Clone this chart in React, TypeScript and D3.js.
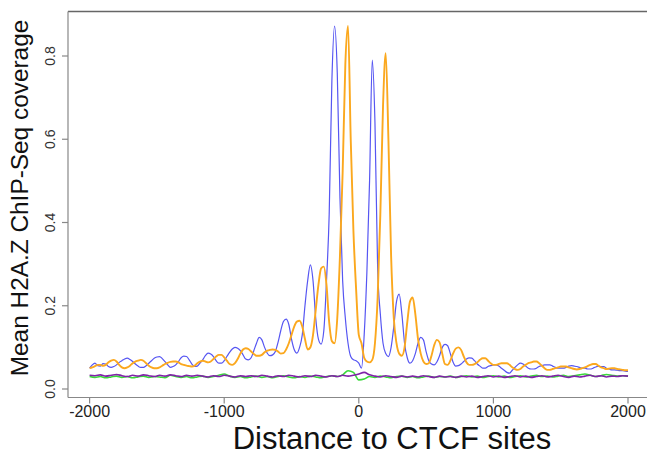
import { line, curveMonotoneX, scaleLinear } from 'd3'

const W = 647
const H = 457

// mean coverage, 20 bp bins from -2000 to 2000
const blueVals = [
  0.050, 0.058, 0.062, 0.056, 0.055, 0.061, 0.060, 0.054, 0.052, 0.054,
  0.058, 0.064, 0.068, 0.072, 0.074, 0.071, 0.066, 0.060, 0.055, 0.052,
  0.052, 0.056, 0.062, 0.068, 0.074, 0.077, 0.078, 0.073, 0.066, 0.058,
  0.052, 0.054, 0.058, 0.066, 0.075, 0.079, 0.078, 0.070, 0.060, 0.054,
  0.055, 0.062, 0.070, 0.080, 0.086, 0.084, 0.078, 0.068, 0.062, 0.062,
  0.068, 0.078, 0.088, 0.096, 0.100, 0.098, 0.092, 0.082, 0.072, 0.070,
  0.075, 0.092, 0.110, 0.124, 0.118, 0.100, 0.086, 0.080, 0.082, 0.090,
  0.112, 0.140, 0.162, 0.168, 0.155, 0.120, 0.095, 0.086, 0.100, 0.130,
  0.200, 0.260, 0.298, 0.260, 0.170, 0.120, 0.108, 0.140, 0.260, 0.420,
  0.740, 0.872, 0.760, 0.460, 0.260, 0.170, 0.110, 0.078, 0.070, 0.068,
  0.062, 0.050, 0.130, 0.280, 0.500, 0.790, 0.640, 0.290, 0.180, 0.110,
  0.085, 0.078, 0.100, 0.150, 0.210, 0.228, 0.180, 0.110, 0.075, 0.062,
  0.068, 0.085, 0.110, 0.124, 0.118, 0.090, 0.068, 0.060, 0.058, 0.065,
  0.080, 0.100, 0.107, 0.104, 0.085, 0.065, 0.055, 0.056, 0.060, 0.066,
  0.072, 0.075, 0.074, 0.068, 0.060, 0.055, 0.050, 0.050, 0.054, 0.056,
  0.058, 0.058, 0.055, 0.050, 0.045, 0.040, 0.038, 0.045, 0.052, 0.058,
  0.062, 0.060, 0.055, 0.050, 0.048, 0.048, 0.050, 0.054, 0.056, 0.058,
  0.058, 0.058, 0.055, 0.052, 0.050, 0.050, 0.050, 0.052, 0.055, 0.056,
  0.055, 0.054, 0.052, 0.050, 0.050, 0.048, 0.048, 0.050, 0.053, 0.055,
  0.054, 0.054, 0.050, 0.048, 0.046, 0.046, 0.045, 0.044, 0.044, 0.043,
  0.042,
]

const orangeVals = [
  0.050, 0.052, 0.055, 0.058, 0.058, 0.056, 0.058, 0.064, 0.068, 0.070,
  0.066, 0.058, 0.052, 0.050, 0.052, 0.056, 0.062, 0.066, 0.068, 0.070,
  0.068, 0.062, 0.056, 0.052, 0.050, 0.050, 0.052, 0.056, 0.060, 0.063,
  0.065, 0.066, 0.066, 0.064, 0.060, 0.058, 0.056, 0.055, 0.054, 0.056,
  0.062, 0.066, 0.068, 0.066, 0.064, 0.066, 0.072, 0.078, 0.082, 0.082,
  0.076, 0.068, 0.060, 0.058, 0.062, 0.072, 0.085, 0.095, 0.098, 0.096,
  0.090, 0.084, 0.080, 0.080, 0.082, 0.088, 0.092, 0.094, 0.095, 0.094,
  0.090, 0.085, 0.086, 0.095, 0.110, 0.130, 0.150, 0.162, 0.164, 0.150,
  0.120, 0.095, 0.100, 0.130, 0.190, 0.250, 0.290, 0.294, 0.250, 0.160,
  0.115, 0.110, 0.170, 0.320, 0.520, 0.780, 0.872, 0.600, 0.380, 0.240,
  0.130, 0.110, 0.075, 0.066, 0.064, 0.070, 0.110, 0.220, 0.420, 0.680,
  0.807, 0.600, 0.320, 0.170, 0.110, 0.085, 0.080, 0.100, 0.160, 0.210,
  0.220, 0.180, 0.120, 0.085, 0.066, 0.060, 0.062, 0.080, 0.105, 0.118,
  0.112, 0.085, 0.060, 0.058, 0.068, 0.085, 0.097, 0.100, 0.094, 0.078,
  0.064, 0.058, 0.058, 0.060, 0.064, 0.070, 0.074, 0.074, 0.068, 0.062,
  0.058, 0.058, 0.060, 0.062, 0.062, 0.062, 0.058, 0.052, 0.048, 0.046,
  0.048, 0.054, 0.058, 0.062, 0.064, 0.066, 0.066, 0.062, 0.056, 0.050,
  0.046, 0.046, 0.048, 0.050, 0.052, 0.054, 0.054, 0.054, 0.052, 0.050,
  0.048, 0.047, 0.048, 0.050, 0.052, 0.055, 0.058, 0.060, 0.060, 0.056,
  0.052, 0.050, 0.048, 0.049, 0.050, 0.050, 0.048, 0.047, 0.046, 0.045,
  0.045,
]

// 40 bp bins
const greenVals = [
  0.030, 0.028, 0.030, 0.027, 0.029, 0.031, 0.028, 0.030, 0.027, 0.029,
  0.031, 0.028, 0.030, 0.029, 0.027, 0.033, 0.030, 0.028, 0.030, 0.027,
  0.029, 0.031, 0.028, 0.030, 0.033, 0.036, 0.031, 0.028, 0.030, 0.027,
  0.029, 0.031, 0.028, 0.030, 0.027, 0.030, 0.032, 0.029, 0.027, 0.030,
  0.028, 0.031, 0.029, 0.027, 0.030, 0.032, 0.030, 0.034, 0.044, 0.040,
  0.022, 0.024, 0.030, 0.028, 0.031, 0.029, 0.027, 0.030, 0.031, 0.028,
  0.030, 0.027, 0.029, 0.031, 0.028, 0.030, 0.029, 0.031, 0.028, 0.030,
  0.032, 0.029, 0.031, 0.028, 0.030, 0.032, 0.029, 0.031, 0.028, 0.030,
  0.032, 0.029, 0.031, 0.033, 0.030, 0.031, 0.029, 0.031, 0.033, 0.030,
  0.032, 0.034, 0.036, 0.033, 0.030, 0.032, 0.035, 0.033, 0.031, 0.032,
  0.031,
]

const purpleVals = [
  0.033, 0.032, 0.034, 0.031, 0.033, 0.035, 0.032, 0.030, 0.033, 0.031,
  0.034, 0.032, 0.030, 0.033, 0.031, 0.034, 0.032, 0.030, 0.033, 0.031,
  0.033, 0.031, 0.029, 0.032, 0.030, 0.033, 0.031, 0.029, 0.032, 0.030,
  0.032, 0.030, 0.033, 0.031, 0.029, 0.032, 0.030, 0.033, 0.031, 0.029,
  0.032, 0.030, 0.033, 0.031, 0.029, 0.032, 0.030, 0.033, 0.031, 0.033,
  0.036, 0.040, 0.034, 0.031, 0.029, 0.032, 0.030, 0.028, 0.031, 0.029,
  0.031, 0.029, 0.032, 0.030, 0.028, 0.031, 0.029, 0.030, 0.028, 0.031,
  0.029, 0.031, 0.028, 0.030, 0.032, 0.029, 0.031, 0.028, 0.030, 0.032,
  0.029, 0.031, 0.028, 0.030, 0.032, 0.029, 0.031, 0.033, 0.030, 0.028,
  0.031, 0.029, 0.031, 0.033, 0.030, 0.032, 0.029, 0.031, 0.030, 0.032,
  0.031,
]

const xTicks = [-2000, -1000, 0, 1000, 2000]
const yTicks = [0, 0.2, 0.4, 0.6, 0.8]

const x = scaleLinear().domain([-2000, 2000]).range([89.6, 628])
const y = scaleLinear().domain([0, 0.8]).range([389, 56])

const frameLeft = 68
const frameTop = 11.5
const frameBottom = 397.5

const font = '"Liberation Sans", Arial, Helvetica, sans-serif'

function toPath(vals: number[]) {
  const step = 4000 / (vals.length - 1)
  const gen = line<number>()
    .x((_, i) => x(-2000 + i * step))
    .y(d => y(d))
    .curve(curveMonotoneX)
  return gen(vals) || ''
}

function App() {
  return (
    <svg width={W} height={H} style={{ position: 'absolute', left: 0, top: 0, background: '#fff' }}>
      {/* frame: right side is cut off in the figure */}
      <line x1={frameLeft} y1={frameTop} x2={W} y2={frameTop} stroke="#666" strokeWidth={1.3} />
      <line x1={frameLeft} y1={frameTop} x2={frameLeft} y2={frameBottom} stroke="#888" strokeWidth={1.2} />
      <line x1={frameLeft} y1={frameBottom} x2={W} y2={frameBottom} stroke="#888" strokeWidth={1.2} />

      {yTicks.map(t => (
        <g key={t}>
          <line x1={frameLeft - 6} x2={frameLeft} y1={y(t)} y2={y(t)} stroke="#888" strokeWidth={1.2} />
          <text
            transform={`translate(55, ${y(t)}) rotate(-90)`}
            textAnchor="middle"
            fontFamily={font}
            fontSize={14}
            fill="#333"
          >
            {t.toFixed(1)}
          </text>
        </g>
      ))}

      {xTicks.map(t => (
        <g key={t}>
          <line x1={x(t)} x2={x(t)} y1={frameBottom} y2={frameBottom + 6} stroke="#888" strokeWidth={1.2} />
          <text x={x(t)} y={417} textAnchor="middle" fontFamily={font} fontSize={16} fill="#222">
            {t}
          </text>
        </g>
      ))}

      <text x={392} y={449} textAnchor="middle" fontFamily={font} fontSize={31} fill="#111">
        Distance to CTCF sites
      </text>
      <text
        transform="translate(28, 198) rotate(-90)"
        textAnchor="middle"
        fontFamily={font}
        fontSize={24.4}
        fill="#111"
      >
        Mean H2A.Z ChIP-Seq coverage
      </text>

      <path d={toPath(greenVals)} fill="none" stroke="#3ad83a" strokeWidth={1.6} />
      <path d={toPath(purpleVals)} fill="none" stroke="#8022a8" strokeWidth={1.6} />
      <path d={toPath(blueVals)} fill="none" stroke="#5656f2" strokeWidth={1.2} />
      <path d={toPath(orangeVals)} fill="none" stroke="#fba81e" strokeWidth={1.9} />
    </svg>
  )
}

export default App
